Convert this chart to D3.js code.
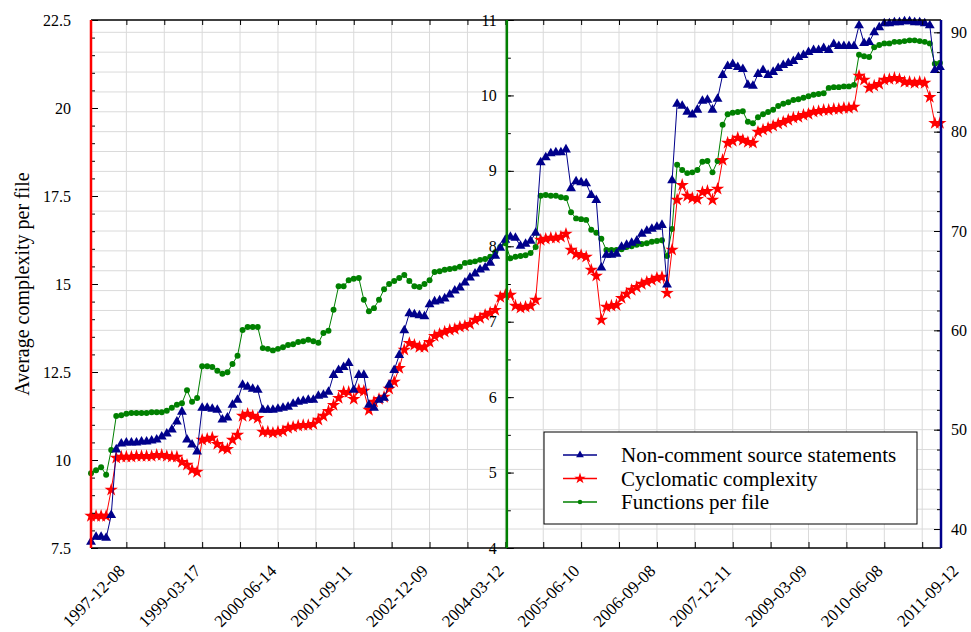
<!DOCTYPE html>
<html>
<head>
<meta charset="utf-8">
<script src="https://cdn.jsdelivr.net/npm/d3@7"></script>
<style>
  body { margin: 0; background: #fff; }
  text { font-family: "Liberation Serif", "Times New Roman", serif; }
</style>
</head>
<body>
<div id="chart"></div>
<script>
// tick labels on the x axis (one per major tick)
var dateLabels = ["1997-12-08", "1999-03-17", "2000-06-14", "2001-09-11", "2002-12-09", "2004-03-12",
                  "2005-06-10", "2006-09-08", "2007-12-11", "2009-03-09", "2010-06-08", "2011-09-12"];

// series values, one per sample (sample index = x)
var ncss = [38.7, 39.2, 39.2, 39.1, 41.4, 48.0, 48.6, 48.7, 48.7, 48.7,
  48.8, 48.8, 48.9, 49.0, 49.3, 49.6, 50.0, 50.8, 51.8, 49.0,
  48.5, 47.8, 52.2, 52.2, 52.1, 52.0, 51.0, 51.2, 52.5, 53.0,
  54.5, 54.3, 54.1, 54.0, 52.0, 52.0, 52.0, 52.1, 52.2, 52.3,
  52.6, 52.8, 52.9, 53.0, 53.0, 53.4, 53.5, 53.8, 55.5, 56.0,
  56.3, 56.7, 54.0, 55.5, 55.5, 52.5, 52.2, 53.0, 53.2, 54.5,
  56.0, 57.5, 60.0, 61.7, 61.6, 61.5, 61.4, 62.6, 62.9, 63.0,
  63.2, 63.6, 64.0, 64.3, 64.8, 65.3, 65.7, 66.1, 66.3, 66.8,
  67.5, 68.3, 69.1, 69.4, 69.3, 68.5, 68.7, 69.0, 69.8, 76.9,
  77.4, 77.8, 77.9, 77.9, 78.2, 74.3, 75.0, 74.9, 74.8, 73.6,
  73.1, 66.3, 67.6, 67.6, 67.7, 68.4, 68.6, 68.8, 69.0, 69.7,
  70.0, 70.2, 70.4, 70.6, 64.6, 75.1, 82.8, 82.6, 82.0, 81.7,
  82.2, 83.1, 83.2, 82.2, 83.3, 85.7, 86.6, 86.8, 86.5, 86.3,
  84.7, 84.6, 85.8, 86.2, 85.7, 86.0, 86.4, 86.7, 86.9, 87.1,
  87.5, 87.7, 88.0, 88.2, 88.2, 88.4, 88.2, 88.8, 88.6, 88.6,
  88.6, 88.6, 90.7, 88.9, 89.0, 90.0, 90.5, 90.9, 90.9, 91.0,
  91.0, 91.1, 91.1, 91.0, 91.0, 90.9, 90.7, 86.2, 86.5];

var cyclomatic = [8.41, 8.41, 8.41, 8.41, 9.15, 10.06, 10.09, 10.09, 10.09, 10.11,
  10.11, 10.11, 10.11, 10.14, 10.14, 10.11, 10.09, 10.09, 9.94, 9.86,
  9.72, 9.66, 10.57, 10.60, 10.63, 10.45, 10.34, 10.31, 10.57, 10.71,
  11.25, 11.31, 11.25, 11.19, 10.80, 10.80, 10.77, 10.80, 10.82, 10.91,
  10.94, 10.97, 10.99, 10.99, 11.02, 11.14, 11.25, 11.39, 11.56, 11.76,
  11.93, 11.93, 11.73, 11.99, 11.96, 11.42, 11.65, 11.73, 11.79, 12.02,
  12.22, 12.61, 13.13, 13.32, 13.27, 13.21, 13.21, 13.35, 13.52, 13.58,
  13.64, 13.69, 13.72, 13.78, 13.81, 13.86, 13.98, 14.03, 14.12, 14.18,
  14.26, 14.63, 14.69, 14.69, 14.38, 14.32, 14.35, 14.38, 14.55, 16.25,
  16.28, 16.31, 16.31, 16.34, 16.42, 15.97, 15.85, 15.82, 15.77, 15.40,
  15.23, 13.98, 14.35, 14.38, 14.40, 14.60, 14.72, 14.83, 14.91, 15.00,
  15.06, 15.11, 15.17, 15.20, 14.74, 15.97, 17.39, 17.81, 17.50, 17.44,
  17.41, 17.61, 17.64, 17.39, 17.70, 18.52, 19.01, 19.06, 19.15, 19.09,
  19.03, 19.01, 19.32, 19.38, 19.43, 19.49, 19.55, 19.60, 19.66, 19.72,
  19.74, 19.80, 19.83, 19.89, 19.91, 19.94, 19.94, 19.97, 19.97, 20.00,
  20.00, 20.03, 20.91, 20.80, 20.57, 20.63, 20.68, 20.80, 20.82, 20.85,
  20.82, 20.74, 20.74, 20.71, 20.74, 20.71, 20.31, 19.57, 19.57];

var functionsPerFile = [4.99, 5.03, 5.07, 4.97, 5.30, 5.75, 5.76, 5.78, 5.79, 5.79,
  5.79, 5.79, 5.80, 5.80, 5.80, 5.82, 5.86, 5.90, 5.92, 6.09,
  5.94, 5.99, 6.41, 6.41, 6.40, 6.35, 6.31, 6.33, 6.44, 6.55,
  6.89, 6.93, 6.93, 6.93, 6.65, 6.64, 6.62, 6.64, 6.66, 6.69,
  6.70, 6.73, 6.74, 6.76, 6.74, 6.72, 6.85, 6.88, 7.16, 7.47,
  7.47, 7.55, 7.57, 7.58, 7.29, 7.14, 7.18, 7.29, 7.43, 7.50,
  7.54, 7.58, 7.62, 7.54, 7.47, 7.46, 7.50, 7.55, 7.66, 7.67,
  7.69, 7.70, 7.71, 7.73, 7.78, 7.79, 7.80, 7.82, 7.83, 7.86,
  7.92, 7.99, 8.04, 7.84, 7.86, 7.87, 7.88, 7.91, 7.99, 8.67,
  8.68, 8.67, 8.67, 8.65, 8.64, 8.45, 8.37, 8.36, 8.35, 8.22,
  8.18, 8.10, 7.95, 7.95, 7.95, 7.96, 7.99, 8.00, 8.02, 8.03,
  8.04, 8.06, 8.07, 8.08, 7.87, 8.23, 9.08, 9.01, 8.97, 8.98,
  9.01, 9.12, 9.13, 8.98, 9.13, 9.61, 9.75, 9.77, 9.78, 9.79,
  9.65, 9.63, 9.71, 9.75, 9.78, 9.81, 9.86, 9.89, 9.91, 9.94,
  9.95, 9.97, 9.99, 10.01, 10.02, 10.03, 10.10, 10.11, 10.11, 10.12,
  10.12, 10.14, 10.54, 10.52, 10.51, 10.64, 10.67, 10.69, 10.69, 10.71,
  10.71, 10.72, 10.73, 10.73, 10.72, 10.71, 10.69, 10.42, 10.43];

var svgWidth = 971;
var svgHeight = 632;

var margin = {
    top: 20,
    right: 30,
    bottom: 84,
    left: 91
  };

var width = svgWidth - margin.left - margin.right;
var height = svgHeight - margin.top - margin.bottom;

var svg = d3.select("#chart")
  .append("svg")
  .attr("width", svgWidth)
  .attr("height", svgHeight);

var chartGroup = svg.append("g")
  .attr("transform", `translate(${margin.left}, ${margin.top})`);

// scales
var xLinearScale = d3.scaleLinear().domain([0, 168.22]).range([0, width]);
var yLeft = d3.scaleLinear().domain([7.5, 22.5]).range([height, 0]);    // cyclomatic
var yMid = d3.scaleLinear().domain([4, 11]).range([height, 0]);         // functions per file
var yRight = d3.scaleLinear().domain([38.09, 91.24]).range([height, 0]); // ncss

var majorX = d3.range(7, 173, 15);
var gridX = d3.range(7, 168, 7.5);
var gridY = d3.range(40, 91, 2);
var midAxisAt = 82.3;
var font = "Liberation Serif, Times New Roman, serif";

// grid lines
chartGroup.append("g").selectAll("line")
  .data(gridX).enter().append("line")
  .attr("x1", d => xLinearScale(d)).attr("x2", d => xLinearScale(d))
  .attr("y1", 0).attr("y2", height)
  .attr("stroke", "#dadada").attr("stroke-width", 1);

chartGroup.append("g").selectAll("line")
  .data(gridY).enter().append("line")
  .attr("x1", 0).attr("x2", width)
  .attr("y1", d => yRight(d)).attr("y2", d => yRight(d))
  .attr("stroke", "#dadada").attr("stroke-width", 1);

// series
var series = [
  {name: "Functions per file", values: functionsPerFile, scale: yMid, color: "#008000", symbol: d3.symbolCircle, size: 28, legendSize: 16},
  {name: "Cyclomatic complexity", values: cyclomatic, scale: yLeft, color: "#ff0000", symbol: d3.symbolStar, size: 55, legendSize: 40},
  {name: "Non-comment source statements", values: ncss, scale: yRight, color: "#00008b", symbol: d3.symbolTriangle, size: 42, legendSize: 26}
];

series.forEach(function(s) {
  var line = d3.line()
    .x((d, i) => xLinearScale(i))
    .y(d => s.scale(d));
  chartGroup.append("path")
    .datum(s.values)
    .attr("fill", "none")
    .attr("stroke", s.color)
    .attr("stroke-width", 1)
    .attr("d", line);
  chartGroup.append("g").selectAll("path")
    .data(s.values).enter().append("path")
    .attr("transform", (d, i) => `translate(${xLinearScale(i)}, ${s.scale(d)})`)
    .attr("d", d3.symbol().type(s.symbol).size(s.size))
    .attr("fill", s.color);
});

// top / bottom ticks
var topAxis = chartGroup.append("g")
  .call(d3.axisTop(xLinearScale).tickValues(gridX).tickSize(-5).tickFormat(""));
topAxis.select(".domain").remove();

var bottomTicks = chartGroup.append("g")
  .attr("transform", `translate(0, ${height})`)
  .call(d3.axisBottom(xLinearScale).tickValues(gridX).tickSize(-6).tickFormat(""));
bottomTicks.select(".domain").remove();

var bottomLabels = chartGroup.append("g")
  .attr("transform", `translate(0, ${height})`)
  .call(d3.axisBottom(xLinearScale).tickValues(majorX).tickSize(0).tickFormat((d, i) => dateLabels[i]));
bottomLabels.select(".domain").remove();
bottomLabels.selectAll("text")
  .attr("y", 0).attr("dy", 0)
  .attr("font-family", font).attr("font-size", 17)
  .style("text-anchor", "end")
  .attr("transform", "translate(-1, 24) rotate(-45)");

chartGroup.append("line").attr("x1", 0).attr("x2", width).attr("y1", 0).attr("y2", 0)
  .attr("stroke", "#000").attr("stroke-width", 1.5);
chartGroup.append("line").attr("x1", 0).attr("x2", width).attr("y1", height).attr("y2", height)
  .attr("stroke", "#000").attr("stroke-width", 1.5);

// y axes: major + minor ticks, then the coloured axis line
function yAxis(scale, maker, xPos, major, minor, pad, color) {
  var g = chartGroup.append("g").attr("transform", `translate(${xPos}, 0)`);
  g.append("g").call(maker(scale).tickValues(minor).tickSize(-4).tickFormat(""))
    .select(".domain").remove();
  var m = g.append("g").call(maker(scale).tickValues(major).tickSize(-7).tickPadding(pad).tickFormat(d => String(d)));
  m.select(".domain").remove();
  m.selectAll("text").attr("font-family", font).attr("font-size", 16).attr("fill", "#000");
  g.append("line").attr("x1", 0).attr("x2", 0).attr("y1", 0).attr("y2", height)
    .attr("stroke", color).attr("stroke-width", 2.5);
}

yAxis(yLeft, d3.axisLeft, 0, [7.5, 10, 12.5, 15, 17.5, 20, 22.5], d3.range(7.5, 22.6, 0.5), 20, "#ff0000");
yAxis(yMid, d3.axisLeft, xLinearScale(midAxisAt), [4, 5, 6, 7, 8, 9, 10, 11], d3.range(4, 11.1, 0.5), 10, "#008000");
yAxis(yRight, d3.axisRight, width, [40, 50, 60, 70, 80, 90], d3.range(40, 91, 2), 10, "#00008b");

// y axis title
svg.append("text")
  .attr("transform", "translate(29, 284) rotate(-90)")
  .attr("text-anchor", "middle")
  .attr("font-size", 20)
  .text("Average complexity per file");

// legend
var legend = chartGroup.append("g").attr("transform", "translate(453, 412)");
legend.append("rect")
  .attr("width", 373).attr("height", 92)
  .attr("fill", "#fff").attr("stroke", "#000").attr("stroke-width", 1);

var legendOrder = [series[2], series[1], series[0]];
legendOrder.forEach(function(s, i) {
  var row = legend.append("g").attr("transform", `translate(0, ${23 + i * 23.5})`);
  row.append("line").attr("x1", 19).attr("x2", 53).attr("y1", 0).attr("y2", 0)
    .attr("stroke", s.color).attr("stroke-width", 1.5);
  row.append("path").attr("transform", "translate(36, 0)")
    .attr("d", d3.symbol().type(s.symbol).size(s.legendSize)).attr("fill", s.color);
  row.append("text").attr("x", 77).attr("y", 7)
    .attr("font-size", 21).text(s.name);
});
</script>
</body>
</html>
